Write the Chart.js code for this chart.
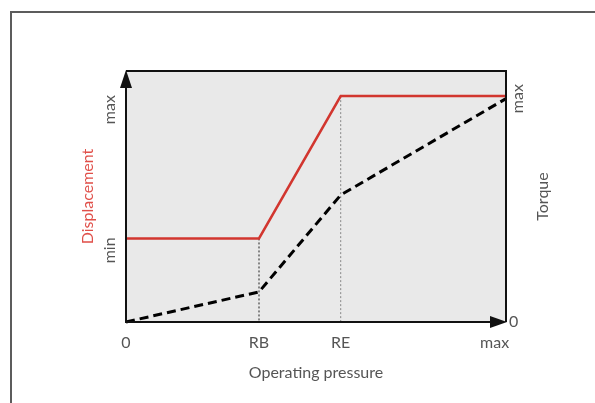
<!DOCTYPE html>
<html>
<head>
<meta charset="utf-8">
<title>Displacement and torque vs operating pressure</title>
<script src="https://cdn.jsdelivr.net/npm/chart.js@4.4.1/dist/chart.umd.min.js"></script>
<style>
  html, body { margin: 0; padding: 0; background: #fff; overflow: hidden; }
  #wrap { position: relative; width: 595px; height: 403px; overflow: hidden; }
  #frame { position: absolute; left: 10px; top: 11px; width: 620px; height: 420px;
           border-top: 2px solid #5c5c5c; border-left: 2px solid #5c5c5c; }
  #chart { position: absolute; left: 0; top: 0; }
</style>
</head>
<body>
<div id="wrap">
  <div id="frame"></div>
  <canvas id="chart" width="595" height="403"></canvas>
</div>
<script>
"use strict";

// Data (relative units, 0..100)
var pressure = [0, 35, 56.5, 100];
var displacement = [33.3, 33.3, 90, 90];
var torque = [0, 12, 50.6, 89];

// Tick labels
var xTickValues = [0, 35, 56.5, 97];
var xTickLabels = ["0", "RB", "RE", "max"];
var dispTickValues = [33.3, 90];
var dispTickLabels = ["min", "max"];
var torqueTickValues = [0, 89];
var torqueTickLabels = ["0", "max"];

var FONT = "Lato, 'Open Sans', sans-serif";
var FONT_SIZE = 16;
var TEXT = "#555555";
var RED = "#d2362f";

function points(xs, ys) {
  return xs.map(function (x, i) { return { x: x, y: ys[i] }; });
}

// Plot background, frame, axis arrows and the odd side labels
var diagramPlugin = {
  id: "diagram",
  beforeDatasetsDraw: function (chart) {
    var a = chart.chartArea, c = chart.ctx;
    c.save();
    c.fillStyle = "#e9e9e9";
    c.fillRect(a.left, a.top, a.right - a.left, a.bottom - a.top);
    c.restore();
  },
  afterDatasetsDraw: function (chart) {
    var a = chart.chartArea, c = chart.ctx;
    var y = chart.scales.y, y2 = chart.scales.y2;
    c.save();
    c.strokeStyle = "#111";
    c.fillStyle = "#111";
    c.lineWidth = 2;

    // top and right border
    c.beginPath();
    c.moveTo(a.left, a.top);
    c.lineTo(a.right, a.top);
    c.lineTo(a.right, a.bottom);
    c.stroke();

    // y axis with arrow
    c.beginPath();
    c.moveTo(a.left, a.bottom);
    c.lineTo(a.left, a.top + 12);
    c.stroke();
    c.beginPath();
    c.moveTo(a.left, a.top - 1);
    c.lineTo(a.left - 6, a.top + 17);
    c.lineTo(a.left + 6, a.top + 17);
    c.closePath();
    c.fill();

    // x axis with arrow
    c.beginPath();
    c.moveTo(a.left - 1, a.bottom);
    c.lineTo(a.right - 12, a.bottom);
    c.stroke();
    c.beginPath();
    c.moveTo(a.right + 1, a.bottom);
    c.lineTo(a.right - 16, a.bottom - 6);
    c.lineTo(a.right - 16, a.bottom + 6);
    c.closePath();
    c.fill();

    c.font = FONT_SIZE + "px " + FONT;
    c.fillStyle = TEXT;
    c.textBaseline = "middle";

    // left: min / max, rotated, ending at the level
    dispTickValues.forEach(function (v, i) {
      c.save();
      c.translate(a.left - 16, y.getPixelForValue(v) - 1);
      c.rotate(-Math.PI / 2);
      c.textAlign = "right";
      c.fillText(dispTickLabels[i], 0, 0);
      c.restore();
    });

    // right: 0 flat, max rotated
    c.textAlign = "left";
    c.fillText(torqueTickLabels[0], a.right + 3, y2.getPixelForValue(torqueTickValues[0]));
    c.save();
    c.translate(a.right + 12, y2.getPixelForValue(torqueTickValues[1]));
    c.rotate(-Math.PI / 2);
    c.textAlign = "center";
    c.fillText(torqueTickLabels[1], 0, 0);
    c.restore();

    // right axis title
    c.save();
    c.translate(a.right + 37, (a.top + a.bottom) / 2);
    c.rotate(-Math.PI / 2);
    c.textAlign = "center";
    c.fillText("Torque", 0, 0);
    c.restore();

    c.restore();
  }
};

var ctx = document.getElementById("chart").getContext("2d");
var chart = new Chart(ctx, {
  type: "line",
  data: {
    datasets: [
      {
        label: "Displacement",
        data: points(pressure, displacement),
        borderColor: RED,
        borderWidth: 2.5,
        yAxisID: "y",
      },
      {
        label: "Torque",
        data: points(pressure, torque),
        borderColor: "#000",
        borderWidth: 3,
        borderDash: [9, 5],
        yAxisID: "y2",
      },
      {
        label: "RB",
        data: points([pressure[1], pressure[1]], [displacement[1], 0]),
        borderColor: "#222",
        borderWidth: 1,
        borderDash: [2, 2],
        yAxisID: "y",
      },
      {
        label: "RE",
        data: points([pressure[2], pressure[2]], [displacement[2], 0]),
        borderColor: "#888",
        borderWidth: 1,
        borderDash: [2, 2],
        yAxisID: "y",
      },
    ],
  },
  options: {
    responsive: false,
    animation: false,
    devicePixelRatio: 1,
    clip: false,
    layout: { padding: { top: 71, right: 89, left: 0, bottom: 0 } },
    elements: {
      point: { radius: 0 },
      line: { tension: 0, fill: false },
    },
    plugins: {
      legend: { display: false },
      tooltip: { enabled: false },
    },
    scales: {
      x: {
        type: "linear",
        min: 0,
        max: 100,
        grid: { display: false, drawTicks: false },
        border: { display: false },
        afterBuildTicks: function (scale) {
          scale.ticks = xTickValues.map(function (v) { return { value: v }; });
        },
        afterFit: function (scale) { scale.height = 81; },
        ticks: {
          autoSkip: false,
          maxRotation: 0,
          padding: 11,
          color: TEXT,
          font: { family: FONT, size: FONT_SIZE },
          callback: function (value, index) { return xTickLabels[index]; },
        },
        title: {
          display: true,
          text: "Operating pressure",
          color: TEXT,
          font: { family: FONT, size: FONT_SIZE },
          padding: { top: 0, bottom: 21 },
        },
      },
      y: {
        position: "left",
        min: 0,
        max: 100,
        grid: { display: false, drawTicks: false },
        border: { display: false },
        ticks: { display: false },
        afterFit: function (scale) { scale.width = 126; },
        title: {
          display: true,
          text: "Displacement",
          color: "#e0504a",
          font: { family: FONT, size: FONT_SIZE },
          padding: { top: 78, bottom: 0 },
        },
      },
      y2: {
        position: "right",
        display: false,
        min: 0,
        max: 100,
      },
    },
  },
  plugins: [diagramPlugin],
});
</script>
</body>
</html>
